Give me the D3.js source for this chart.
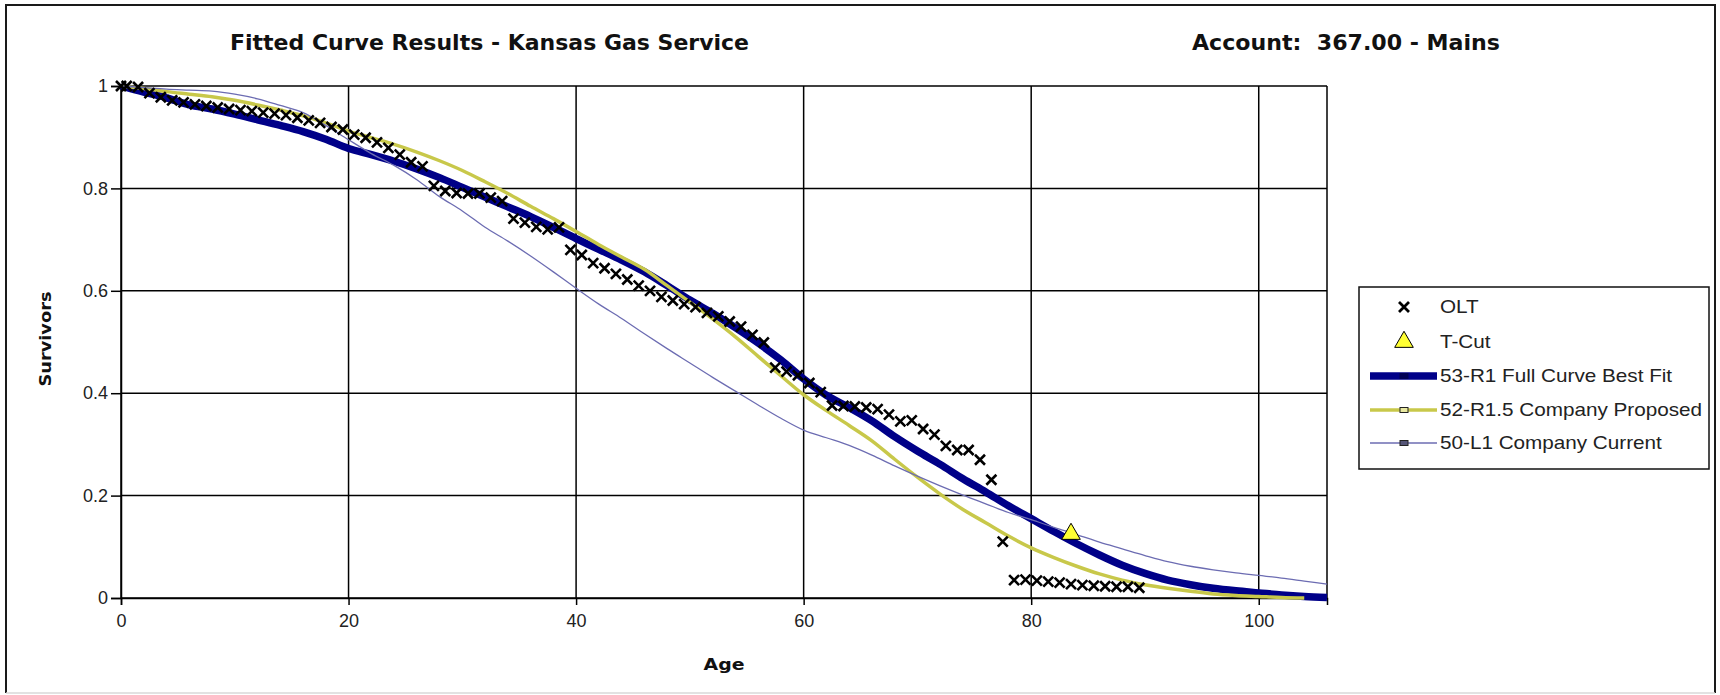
<!DOCTYPE html>
<html>
<head>
<meta charset="utf-8">
<script src="https://cdn.jsdelivr.net/npm/d3@7"></script>
<style>
  html, body { margin: 0; padding: 0; background: #ffffff; }
  svg { display: block; }
</style>
</head>
<body>
<svg id="chart" width="1720" height="695"></svg>
<script>
// ---- Data ----
// Ages (years) at which the fitted Iowa curves are tabulated
const curveAges = [0,2,4,6,8,10,12,14,16,18,20,22,24,26,28,30,32,34,36,38,40,42,44,46,48,50,52,54,56,58,60,62,64,66,68,70,72,74,76,78,80,82,84,86,88,90,92,94,96,98,100,102,104,106];

// 53-R1 Full Curve Best Fit
const r1BestFit = [1.000,0.988,0.977,0.963,0.955,0.945,0.934,0.923,0.911,0.896,0.878,0.866,0.853,0.838,0.821,0.802,0.783,0.764,0.745,0.724,0.702,0.681,0.660,0.637,0.610,0.582,0.556,0.528,0.498,0.465,0.428,0.396,0.372,0.346,0.315,0.287,0.261,0.233,0.207,0.180,0.155,0.130,0.106,0.084,0.064,0.048,0.035,0.026,0.019,0.014,0.010,0.006,0.003,0.001];

// 52-R1.5 Company Proposed
const r15Proposed = [1.000,0.995,0.989,0.984,0.979,0.972,0.963,0.953,0.942,0.928,0.912,0.899,0.886,0.871,0.854,0.835,0.813,0.790,0.765,0.741,0.716,0.690,0.666,0.642,0.610,0.578,0.545,0.510,0.472,0.434,0.397,0.366,0.337,0.307,0.271,0.236,0.203,0.173,0.147,0.121,0.098,0.079,0.062,0.047,0.035,0.026,0.019,0.013,0.008,0.005,0.003,0.001,0.000,null];

// 50-L1 Company Current
const l1Current = [1.000,0.997,0.994,0.992,0.990,0.984,0.975,0.962,0.948,0.923,0.895,0.868,0.845,0.817,0.784,0.756,0.724,0.697,0.668,0.637,0.605,0.574,0.546,0.516,0.487,0.459,0.431,0.404,0.377,0.351,0.328,0.313,0.298,0.279,0.258,0.238,0.219,0.201,0.184,0.167,0.153,0.138,0.124,0.109,0.096,0.083,0.071,0.062,0.055,0.049,0.044,0.039,0.033,0.027];

// Observed life table (OLT) survivor ratios
const oltAges = [0,0.5,1.5,2.5,3.5,4.5,5.5,6.5,7.5,8.5,9.5,10.5,11.5,12.5,13.5,14.5,15.5,16.5,17.5,18.5,19.5,20.5,21.5,22.5,23.5,24.5,25.5,26.5,27.5,28.5,29.5,30.5,31.5,32.5,33.5,34.5,35.5,36.5,37.5,38.5,39.5,40.5,41.5,42.5,43.5,44.5,45.5,46.5,47.5,48.5,49.5,50.5,51.5,52.5,53.5,54.5,55.5,56.5,57.5,58.5,59.5,60.5,61.5,62.5,63.5,64.5,65.5,66.5,67.5,68.5,69.5,70.5,71.5,72.5,73.5,74.5,75.5,76.5,77.5,78.5,79.5,80.5,81.5,82.5,83.5,84.5,85.5,86.5,87.5,88.5,89.5];
const oltValues = [1.000,1.000,0.998,0.986,0.978,0.972,0.968,0.964,0.961,0.958,0.955,0.953,0.951,0.948,0.946,0.943,0.938,0.933,0.928,0.920,0.915,0.905,0.899,0.890,0.879,0.866,0.851,0.843,0.805,0.795,0.791,0.790,0.790,0.782,0.775,0.741,0.733,0.725,0.720,0.724,0.680,0.670,0.654,0.644,0.633,0.622,0.610,0.600,0.588,0.581,0.574,0.568,0.557,0.550,0.540,0.530,0.514,0.499,0.450,0.442,0.435,0.420,0.402,0.376,0.375,0.374,0.372,0.369,0.358,0.345,0.347,0.330,0.319,0.297,0.289,0.289,0.270,0.231,0.110,0.035,0.036,0.034,0.032,0.030,0.027,0.025,0.024,0.023,0.022,0.022,0.020];

// T-Cut point
const tCutAge = [83.5];
const tCutValue = [0.125];

// Axis ticks
const xTicks = [0, 20, 40, 60, 80, 100];
const yTicks = [0, 0.2, 0.4, 0.6, 0.8, 1];

// Legend entries
const legendLabels = ["OLT", "T-Cut", "53-R1 Full Curve Best Fit", "52-R1.5 Company Proposed", "50-L1 Company Current"];

// ---- Layout ----
const svg = d3.select("#chart");
const plot = { left: 121, right: 1327, top: 86, bottom: 598 };
const x = d3.scaleLinear().domain([0, 106]).range([plot.left, plot.right]);
const y = d3.scaleLinear().domain([0, 1]).range([plot.bottom, plot.top]);

const colors = { r1: "#000088", r15: "#c8c84a", l1: "#6c6cb2" };

// Outer frame
svg.append("path")
  .attr("d", "M6,693 L6,5 L1715,5 L1715,693")
  .attr("fill", "none").attr("stroke", "#1a1a1a").attr("stroke-width", 2);
svg.append("line").attr("x1", 6).attr("x2", 1715).attr("y1", 693).attr("y2", 693)
  .attr("stroke", "#d8d8d8").attr("stroke-width", 1.5);

// Titles
const titleFont = "'DejaVu Sans', Verdana, sans-serif";
svg.append("text")
  .attr("x", 230).attr("y", 50)
  .attr("font-family", titleFont).attr("font-weight", "bold").attr("font-size", 21)
  .attr("textLength", 519).attr("lengthAdjust", "spacingAndGlyphs")
  .attr("fill", "#111")
  .text("Fitted Curve Results - Kansas Gas Service");
svg.append("text")
  .attr("x", 1192).attr("y", 50)
  .attr("font-family", titleFont).attr("font-weight", "bold").attr("font-size", 21)
  .attr("textLength", 308).attr("lengthAdjust", "spacingAndGlyphs")
  .attr("fill", "#111")
  .text("Account:\u00a0 367.00 - Mains");

// Gridlines
const grid = svg.append("g").attr("stroke", "#000").attr("stroke-width", 1.5);
grid.selectAll("line.gx").data(xTicks).join("line")
  .attr("x1", d => x(d)).attr("x2", d => x(d))
  .attr("y1", plot.top).attr("y2", plot.bottom);
grid.selectAll("line.gy").data(yTicks).join("line")
  .attr("x1", plot.left).attr("x2", plot.right)
  .attr("y1", d => y(d)).attr("y2", d => y(d));
grid.append("line")
  .attr("x1", plot.right).attr("x2", plot.right)
  .attr("y1", plot.top).attr("y2", plot.bottom);

// Axes
const tickFont = "'Liberation Sans', Arial, sans-serif";
const yAxis = svg.append("g")
  .attr("transform", `translate(${plot.left},0)`)
  .call(d3.axisLeft(y).tickValues(yTicks).tickSize(10).tickPadding(3).tickFormat(d3.format("")));
const xAxis = svg.append("g")
  .attr("transform", `translate(0,${plot.bottom})`)
  .call(d3.axisBottom(x).tickValues(xTicks).tickSize(7).tickPadding(9).tickFormat(d3.format("")));
[yAxis, xAxis].forEach(a => {
  a.select(".domain").attr("stroke", "#000").attr("stroke-width", 1.5);
  a.selectAll(".tick line").attr("stroke", "#000").attr("stroke-width", 1.5);
  a.selectAll(".tick text").attr("font-family", tickFont).attr("font-size", 18).attr("fill", "#222");
});

// Axis titles
svg.append("text")
  .attr("transform", "translate(51,339) rotate(-90)")
  .attr("text-anchor", "middle")
  .attr("font-family", titleFont).attr("font-weight", "bold").attr("font-size", 16)
  .attr("textLength", 95).attr("lengthAdjust", "spacingAndGlyphs")
  .attr("fill", "#111")
  .text("Survivors");
svg.append("text")
  .attr("x", 724).attr("y", 670)
  .attr("text-anchor", "middle")
  .attr("font-family", titleFont).attr("font-weight", "bold").attr("font-size", 16)
  .attr("textLength", 41).attr("lengthAdjust", "spacingAndGlyphs")
  .attr("fill", "#111")
  .text("Age");

// Curves
const seriesPoints = vals => curveAges.map((a, i) => ({ age: a, v: vals[i] }));
const line = d3.line()
  .defined(d => d.v != null)
  .x(d => x(d.age)).y(d => y(d.v))
  .curve(d3.curveMonotoneX);

svg.append("path").datum(seriesPoints(r1BestFit))
  .attr("d", line).attr("fill", "none")
  .attr("stroke", colors.r1).attr("stroke-width", 7.5).attr("stroke-linejoin", "round");
svg.append("path").datum(seriesPoints(r15Proposed))
  .attr("d", line).attr("fill", "none")
  .attr("stroke", colors.r15).attr("stroke-width", 3.5).attr("stroke-linejoin", "round");
svg.append("path").datum(seriesPoints(l1Current))
  .attr("d", line).attr("fill", "none")
  .attr("stroke", colors.l1).attr("stroke-width", 1.3);

// OLT markers
const cross = "M-5,-5L5,5M5,-5L-5,5";
svg.append("g").selectAll("path")
  .data(oltAges.map((a, i) => ({ age: a, v: oltValues[i] })))
  .join("path")
  .attr("transform", d => `translate(${x(d.age)},${y(d.v)})`)
  .attr("d", cross)
  .attr("stroke", "#000").attr("stroke-width", 2.6).attr("fill", "none");

// T-Cut marker
const tri = d3.symbol().type(d3.symbolTriangle).size(150);
svg.append("g").selectAll("path")
  .data(tCutAge.map((a, i) => ({ age: a, v: tCutValue[i] })))
  .join("path")
  .attr("transform", d => `translate(${x(d.age)},${y(d.v)})`)
  .attr("d", tri)
  .attr("fill", "#ffff33").attr("stroke", "#000").attr("stroke-width", 1);

// Legend
const legend = svg.append("g");
legend.append("rect")
  .attr("x", 1359).attr("y", 287).attr("width", 350).attr("height", 182)
  .attr("fill", "#fff").attr("stroke", "#111").attr("stroke-width", 1.5);
const rowY = [307, 342, 376, 410, 443];
const symX = 1404;
// OLT
legend.append("path").attr("transform", `translate(${symX},${rowY[0]})`)
  .attr("d", cross).attr("stroke", "#000").attr("stroke-width", 2.8).attr("fill", "none");
// T-Cut
legend.append("path").attr("transform", `translate(${symX},${rowY[1]})`)
  .attr("d", tri).attr("fill", "#ffff33").attr("stroke", "#000").attr("stroke-width", 1);
// Line entries
const lineEntries = [
  { row: rowY[2], color: colors.r1, width: 7.5, mfill: "#000055", mstroke: "#000055" },
  { row: rowY[3], color: colors.r15, width: 3.5, mfill: "#e8e8a0", mstroke: "#222" },
  { row: rowY[4], color: colors.l1, width: 1.3, mfill: "#555577", mstroke: "#222" }
];
lineEntries.forEach(e => {
  legend.append("line").attr("x1", 1370).attr("x2", 1437)
    .attr("y1", e.row).attr("y2", e.row)
    .attr("stroke", e.color).attr("stroke-width", e.width);
  legend.append("rect").attr("x", symX - 4).attr("y", e.row - 2.5)
    .attr("width", 8).attr("height", 5)
    .attr("fill", e.mfill).attr("stroke", e.mstroke).attr("stroke-width", 1);
});
legend.selectAll("text.lbl").data(legendLabels).join("text")
  .attr("transform", (d, i) => `translate(1440,${rowY[i] + 6}) scale(1.15,1)`)
  .attr("font-family", tickFont).attr("font-size", 18).attr("fill", "#222")
  .text(d => d);
</script>
</body>
</html>
